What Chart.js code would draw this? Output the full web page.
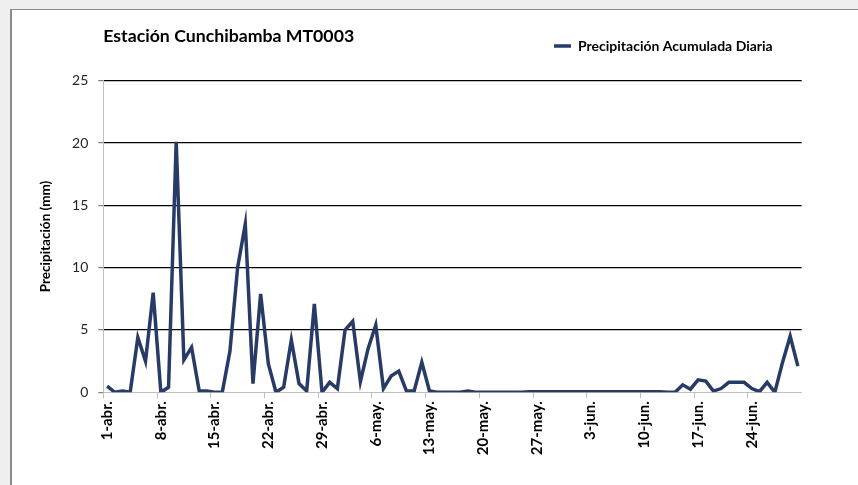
<!DOCTYPE html>
<html>
<head>
<meta charset="utf-8">
<script src="https://cdn.jsdelivr.net/npm/chart.js@4.4.1/dist/chart.umd.min.js"></script>
<style>
  html, body { margin: 0; padding: 0; background: #efefef; overflow: hidden; }
  #frame { position: absolute; left: 10px; top: 9px; width: 860px; height: 490px; background: #fff;
           border-top: 1px solid #8c8c8c; border-left: 2px solid #8c8c8c; }
  #chart { position: absolute; left: 0; top: 0; }
</style>
</head>
<body>
<div id="frame"></div>
<canvas id="chart" width="858" height="485"></canvas>
<script>
const months = ['abr.', 'may.', 'jun.'];
const monthDays = [30, 31, 30];

// precipitación diaria (mm)
const aprilValues = [0.5, 0, 0.1, 0, 4.4, 2.5, 8.0, 0, 0.4, 20.1, 2.6, 3.6, 0.1, 0.1, 0, 0, 3.3, 10.0, 13.5, 0.7,
  7.9, 2.3, 0, 0.4, 4.2, 0.7, 0.1, 7.1, 0, 0.8];
const mayValues = [0.3, 5.0, 5.7, 0.85, 3.5, 5.4, 0.3, 1.3, 1.7, 0.1, 0.1, 2.4, 0.1, 0, 0, 0, 0, 0.1, 0, 0,
  0, 0, 0, 0, 0, 0.05, 0.05, 0.05, 0.05, 0.05, 0.05];
const juneValues = [0.05, 0.05, 0.05, 0.05, 0.05, 0.05, 0.05, 0.05, 0.05, 0.05, 0.05, 0.05, 0, 0, 0.6, 0.25, 1.0, 0.9, 0.1, 0.3,
  0.8, 0.8, 0.8, 0.3, 0.05, 0.8, 0, 2.4, 4.5, 2.1];

const labels = [];
months.forEach((m, k) => { for (let d = 1; d <= monthDays[k]; d++) labels.push(d + '-' + m); });
const values = [...aprilValues, ...mayValues, ...juneValues];

const lineColor = '#283a66';
const font = 'Lato, "Open Sans", sans-serif';

new Chart(document.getElementById('chart').getContext('2d'), {
  type: 'line',
  data: {
    labels,
    datasets: [{
      label: 'Precipitación Acumulada Diaria',
      data: values,
      borderColor: lineColor,
      backgroundColor: lineColor,
      borderWidth: 3.5,
      pointRadius: 0,
      tension: 0,
      fill: false
    }]
  },
  options: {
    responsive: false,
    animation: false,
    layout: { padding: { left: 30, right: 56.3, top: 10, bottom: 0 } },
    scales: {
      x: {
        offset: true,
        afterFit: (s) => { s.height = 92.7; },
        border: { color: '#bfbfbf', width: 1 },
        grid: {
          offset: true,
          drawOnChartArea: false,
          tickLength: 6,
          color: (ctx) => (ctx.index % 7 === 0 ? '#bfbfbf' : 'rgba(0,0,0,0)')
        },
        ticks: {
          autoSkip: false,
          maxRotation: 90,
          minRotation: 90,
          padding: 3,
          color: '#000',
          font: { family: font, size: 15, weight: 'bold' },
          callback: (v, i) => (i % 7 === 0 ? labels[i] : '')
        }
      },
      y: {
        min: 0,
        max: 25,
        afterFit: (s) => { s.width = 73.3; },
        border: { color: '#bfbfbf', width: 1 },
        grid: {
          color: (ctx) => (ctx.tick && ctx.tick.value === 0 ? 'rgba(0,0,0,0)' : '#000'),
          lineWidth: 1.2,
          tickLength: 5,
          tickColor: '#7f7f7f'
        },
        ticks: {
          stepSize: 5,
          padding: 10,
          color: '#262626',
          font: { family: font, size: 14 }
        },
        title: {
          display: true,
          text: 'Precipitación (mm)',
          color: '#000',
          padding: { top: 8, bottom: 0 },
          font: { family: font, size: 13.5, weight: 'bold' }
        }
      }
    },
    plugins: {
      title: {
        display: true,
        text: 'Estación Cunchibamba MT0003',
        align: 'start',
        fullSize: false,
        weight: 500,
        color: '#000',
        padding: { top: -37.6, bottom: 34.06 },
        font: { family: font, size: 17.7, weight: 'bold' }
      },
      legend: {
        display: true,
        position: 'top',
        align: 'end',
        fullSize: false,
        labels: {
          usePointStyle: true,
          pointStyle: 'line',
          pointStyleWidth: 17,
          padding: 29,
          color: '#000',
          font: { family: font, size: 14, weight: 'bold' }
        }
      },
      tooltip: { enabled: false }
    }
  }
});
</script>
</body>
</html>
